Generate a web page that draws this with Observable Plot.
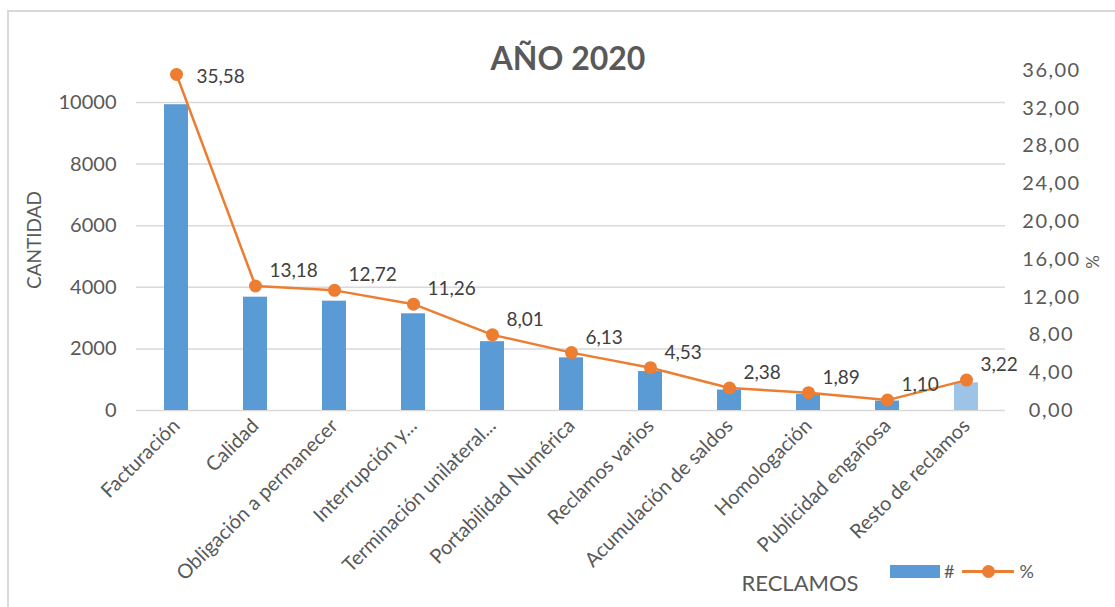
<!DOCTYPE html>
<html lang="es">
<head>
<meta charset="utf-8">
<title>AÑO 2020 – Reclamos</title>
<script src="https://cdn.jsdelivr.net/npm/d3@7"></script>
<script src="https://cdn.jsdelivr.net/npm/@observablehq/plot@0.6"></script>
<style>
  html, body { margin: 0; padding: 0; background: #fff; }
  #chart {
    position: relative; width: 1115px; height: 607px; overflow: hidden;
    font-family: Lato, "Open Sans", sans-serif; color: #595959;
  }
  #frame {
    position: absolute; left: 7px; top: 10px; right: -4px; bottom: -4px;
    border-left: 2px solid #d9d9d9; border-top: 2px solid #d9d9d9;
  }
  #chart svg { position: absolute; left: 0; top: 0; }
  .lbl { position: absolute; white-space: nowrap; }
  #title { left: 568px; top: 57px; transform: translate(-50%, -50%); font-size: 32px; font-weight: bold; }
  #ylab { left: 33px; top: 240px; transform: translate(-50%, -50%) rotate(-90deg); font-size: 19px; }
  #y2lab { left: 1092px; top: 262px; transform: translate(-50%, -50%) rotate(-90deg); font-size: 17px; }
  #xlab { left: 800px; top: 582px; transform: translate(-50%, -50%); font-size: 22px; }
  #legend { left: 890px; top: 571px; transform: translateY(-50%); display: flex; align-items: center; font-size: 18px; }
  .sw-bar { width: 50px; height: 13px; background: #5b9bd5; margin-right: 4px; }
  .sw-line { position: relative; width: 52px; height: 3px; background: #ed7d31; margin: 0 5px 0 8px; }
  .sw-line::after { content: ""; position: absolute; left: 20px; top: -5px; width: 13px; height: 13px; border-radius: 50%; background: #ed7d31; }
</style>
</head>
<body>
<div id="chart">
  <div id="frame"></div>
  <div class="lbl" id="title">AÑO 2020</div>
  <div class="lbl" id="ylab">CANTIDAD</div>
  <div class="lbl" id="y2lab">%</div>
  <div class="lbl" id="xlab">RECLAMOS</div>
  <div class="lbl" id="legend"><span class="sw-bar"></span><span>#</span><span class="sw-line"></span><span>%</span></div>
</div>
<script>
// Complaint categories, their counts (#) and share of the total (%)
const categories = [
  "Facturación", "Calidad", "Obligación a permanecer", "Interrupción y...",
  "Terminación unilateral...", "Portabilidad Numérica", "Reclamos varios",
  "Acumulación de saldos", "Homologación", "Publicidad engañosa", "Resto de reclamos"
];
const counts = [9930, 3680, 3550, 3140, 2235, 1710, 1265, 665, 527, 307, 898];
const percents = [35.58, 13.18, 12.72, 11.26, 8.01, 6.13, 4.53, 2.38, 1.89, 1.10, 3.22];

// Axis ticks: left axis (count), right axis (%)
const countTicks = [0, 2000, 4000, 6000, 8000, 10000];
const pctTicks = [0, 4, 8, 12, 16, 20, 24, 28, 32, 36];

const countMax = 11040;   // top of the plotting area in counts
const pctMax = 36;        // same height on the percentage axis
const k = countMax / pctMax;

const rows = categories.map((c, i) => ({cat: c, count: counts[i], pct: percents[i], first: i === 0, last: i === categories.length - 1}));
const fmt = v => v.toFixed(2).replace(".", ",");

const orange = "#ed7d31";
const blue = "#5b9bd5";
const lightBlue = "#9dc3e6";

const labelStyle = {x: "cat", y: d => d.pct * k, text: d => fmt(d.pct), textAnchor: "start", fill: "#404040", fontSize: 19};

const chart = Plot.plot({
  width: 1115,
  height: 607,
  marginTop: 70,
  marginBottom: 197,
  marginLeft: 136,
  marginRight: 110,
  style: {fontFamily: "Lato, 'Open Sans', sans-serif", fontSize: "17px", color: "#595959", background: "transparent"},
  x: {domain: categories, paddingInner: 0.7, paddingOuter: 0.35, axis: null},
  y: {domain: [0, countMax], axis: null},
  marks: [
    Plot.gridY(countTicks, {stroke: "#d9d9d9", strokeOpacity: 1, strokeWidth: 1.5}),
    Plot.barY(rows, {x: "cat", y: "count", fill: d => d.last ? lightBlue : blue}),
    Plot.line(rows, {x: "cat", y: d => d.pct * k, stroke: orange, strokeWidth: 2.5}),
    Plot.dot(rows, {x: "cat", y: d => d.pct * k, r: 6.5, fill: orange}),
    // the top label sits beside its point, the others just above-right
    Plot.text(rows.filter(d => d.first), {...labelStyle, dx: 20, dy: 2}),
    Plot.text(rows.filter(d => !d.first), {...labelStyle, dx: 14, dy: -15}),
    Plot.axisY({ticks: countTicks, anchor: "left", tickSize: 0, tickPadding: 20, label: null, tickFormat: d => String(d), fontSize: 20}),
    Plot.axisY({ticks: pctTicks.map(v => v * k), anchor: "right", tickSize: 0, tickPadding: 46, textAnchor: "middle", label: null, tickFormat: v => fmt(v / k), fontSize: 20}),
    Plot.axisX({anchor: "bottom", tickSize: 0, tickPadding: 12, tickRotate: -45, label: null, fontSize: 20})
  ]
});

// widen the percentage tick labels slightly
const tickGroups = chart.querySelectorAll('g[aria-label="y-axis tick label"]');
if (tickGroups.length > 1) tickGroups[1].setAttribute("letter-spacing", "1.5");

document.getElementById("chart").appendChild(chart);
</script>
</body>
</html>
